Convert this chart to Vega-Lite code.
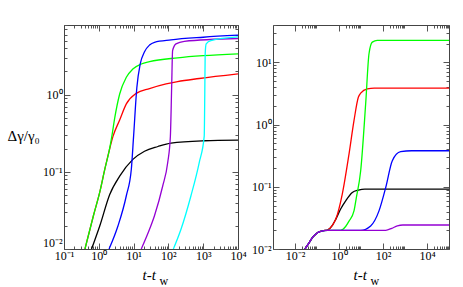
{
  "$schema": "https://vega.github.io/schema/vega-lite/v6.json",
  "background": "white",
  "padding": {"left": 7, "top": 19, "right": 5, "bottom": 5},
  "bounds": "flush",
  "spacing": 35,
  "config": {
    "view": {"stroke": null},
    "axis": {
      "labelFont": "Liberation Serif", "titleFont": "Liberation Serif",
      "labelFontSize": 12, "labelColor": "#000", "titleColor": "#000",
      "domainColor": "#444", "tickColor": "#555", "grid": false,
      "labelOverlap": false, "labelBound": false, "labelFlush": false,
      "titleFontWeight": "normal"
    }
  },
  "datasets": {
    "left": [
      {"s": "black", "t": 0.62, "v": 0.01}, {"s": "black", "t": 1.07, "v": 0.02}, {"s": "black", "t": 2.06, "v": 0.051}, {"s": "black", "t": 3.98, "v": 0.088}, {"s": "black", "t": 9.55, "v": 0.145}, {"s": "black", "t": 20.6, "v": 0.185}, {"s": "black", "t": 50, "v": 0.213}, {"s": "black", "t": 119, "v": 0.236}, {"s": "black", "t": 1070, "v": 0.253}, {"s": "black", "t": 10000, "v": 0.258},
      {"s": "red", "t": 0.4, "v": 0.01}, {"s": "red", "t": 0.7, "v": 0.027}, {"s": "red", "t": 1.07, "v": 0.055}, {"s": "red", "t": 1.5, "v": 0.11}, {"s": "red", "t": 2.0, "v": 0.19}, {"s": "red", "t": 2.57, "v": 0.29}, {"s": "red", "t": 3.98, "v": 0.47}, {"s": "red", "t": 6.18, "v": 0.76}, {"s": "red", "t": 11.9, "v": 1.04}, {"s": "red", "t": 28.7, "v": 1.2}, {"s": "red", "t": 86, "v": 1.38}, {"s": "red", "t": 184, "v": 1.48}, {"s": "red", "t": 769, "v": 1.62}, {"s": "red", "t": 10000, "v": 1.86},
      {"s": "green", "t": 0.4, "v": 0.01}, {"s": "green", "t": 0.7, "v": 0.027}, {"s": "green", "t": 1.07, "v": 0.055}, {"s": "green", "t": 1.5, "v": 0.11}, {"s": "green", "t": 2.0, "v": 0.19}, {"s": "green", "t": 2.4, "v": 0.3}, {"s": "green", "t": 2.87, "v": 0.5}, {"s": "green", "t": 3.98, "v": 1.02}, {"s": "green", "t": 6.18, "v": 1.68}, {"s": "green", "t": 9.5, "v": 2.15}, {"s": "green", "t": 16.6, "v": 2.5}, {"s": "green", "t": 28.7, "v": 2.68}, {"s": "green", "t": 184, "v": 3.0}, {"s": "green", "t": 1000, "v": 3.2}, {"s": "green", "t": 10000, "v": 3.38},
      {"s": "blue", "t": 1.97, "v": 0.01}, {"s": "blue", "t": 3.57, "v": 0.02}, {"s": "blue", "t": 6.18, "v": 0.049}, {"s": "blue", "t": 8.6, "v": 0.108}, {"s": "blue", "t": 10, "v": 0.29}, {"s": "blue", "t": 12.4, "v": 1.24}, {"s": "blue", "t": 15.5, "v": 2.5}, {"s": "blue", "t": 20.6, "v": 3.6}, {"s": "blue", "t": 28.7, "v": 4.4}, {"s": "blue", "t": 39.8, "v": 4.78}, {"s": "blue", "t": 119, "v": 5.13}, {"s": "blue", "t": 1000, "v": 5.55}, {"s": "blue", "t": 10000, "v": 5.9},
      {"s": "purple", "t": 16.6, "v": 0.01}, {"s": "purple", "t": 28.7, "v": 0.018}, {"s": "purple", "t": 39.8, "v": 0.027}, {"s": "purple", "t": 68.9, "v": 0.066}, {"s": "purple", "t": 95.6, "v": 0.132}, {"s": "purple", "t": 114, "v": 0.29}, {"s": "purple", "t": 124, "v": 1.24}, {"s": "purple", "t": 132, "v": 3.73}, {"s": "purple", "t": 165, "v": 4.55}, {"s": "purple", "t": 287, "v": 4.92}, {"s": "purple", "t": 10000, "v": 5.35},
      {"s": "cyan", "t": 139, "v": 0.01}, {"s": "cyan", "t": 230, "v": 0.018}, {"s": "cyan", "t": 445, "v": 0.049}, {"s": "cyan", "t": 769, "v": 0.132}, {"s": "cyan", "t": 1070, "v": 0.29}, {"s": "cyan", "t": 1110, "v": 1.0}, {"s": "cyan", "t": 1140, "v": 3.38}, {"s": "cyan", "t": 1219, "v": 4.55}, {"s": "cyan", "t": 1660, "v": 5.03}, {"s": "cyan", "t": 10000, "v": 5.6}
    ],
    "right": [
      {"s": "black", "t": 0.0285, "v": 0.01}, {"s": "black", "t": 0.045, "v": 0.0128}, {"s": "black", "t": 0.0615, "v": 0.0152}, {"s": "black", "t": 0.09, "v": 0.0175}, {"s": "black", "t": 0.123, "v": 0.0188}, {"s": "black", "t": 0.2, "v": 0.0197}, {"s": "black", "t": 0.3, "v": 0.0202}, {"s": "black", "t": 0.5, "v": 0.024}, {"s": "black", "t": 0.71, "v": 0.03}, {"s": "black", "t": 1.19, "v": 0.044}, {"s": "black", "t": 2.01, "v": 0.0594}, {"s": "black", "t": 4.03, "v": 0.081}, {"s": "black", "t": 7.57, "v": 0.0885}, {"s": "black", "t": 15, "v": 0.092}, {"s": "black", "t": 100000, "v": 0.092},
      {"s": "red", "t": 0.0285, "v": 0.01}, {"s": "red", "t": 0.045, "v": 0.0128}, {"s": "red", "t": 0.0615, "v": 0.0152}, {"s": "red", "t": 0.09, "v": 0.0175}, {"s": "red", "t": 0.123, "v": 0.0188}, {"s": "red", "t": 0.2, "v": 0.0197}, {"s": "red", "t": 0.3, "v": 0.0202}, {"s": "red", "t": 0.5, "v": 0.024}, {"s": "red", "t": 0.71, "v": 0.03}, {"s": "red", "t": 1.41, "v": 0.0763}, {"s": "red", "t": 2.85, "v": 0.336}, {"s": "red", "t": 4.8, "v": 1.16}, {"s": "red", "t": 7.57, "v": 2.75}, {"s": "red", "t": 9.67, "v": 3.2}, {"s": "red", "t": 19.4, "v": 3.75}, {"s": "red", "t": 40, "v": 3.85}, {"s": "red", "t": 100000, "v": 3.85},
      {"s": "green", "t": 0.0285, "v": 0.01}, {"s": "green", "t": 0.045, "v": 0.0128}, {"s": "green", "t": 0.0615, "v": 0.0152}, {"s": "green", "t": 0.09, "v": 0.0175}, {"s": "green", "t": 0.123, "v": 0.0188}, {"s": "green", "t": 0.2, "v": 0.0197}, {"s": "green", "t": 0.3, "v": 0.02}, {"s": "green", "t": 1.19, "v": 0.02}, {"s": "green", "t": 2.0, "v": 0.023}, {"s": "green", "t": 2.85, "v": 0.028}, {"s": "green", "t": 4.8, "v": 0.041}, {"s": "green", "t": 6.14, "v": 0.067}, {"s": "green", "t": 9.67, "v": 0.181}, {"s": "green", "t": 16.3, "v": 2.16}, {"s": "green", "t": 23.1, "v": 13.8}, {"s": "green", "t": 32.7, "v": 21.2}, {"s": "green", "t": 55, "v": 22.6}, {"s": "green", "t": 100000, "v": 22.6},
      {"s": "blue", "t": 0.0285, "v": 0.01}, {"s": "blue", "t": 0.045, "v": 0.0128}, {"s": "blue", "t": 0.0615, "v": 0.0152}, {"s": "blue", "t": 0.09, "v": 0.0175}, {"s": "blue", "t": 0.123, "v": 0.0188}, {"s": "blue", "t": 0.2, "v": 0.0197}, {"s": "blue", "t": 0.3, "v": 0.02}, {"s": "blue", "t": 9.67, "v": 0.02}, {"s": "blue", "t": 27.5, "v": 0.0235}, {"s": "blue", "t": 65.8, "v": 0.041}, {"s": "blue", "t": 133, "v": 0.0975}, {"s": "blue", "t": 265, "v": 0.263}, {"s": "blue", "t": 632, "v": 0.367}, {"s": "blue", "t": 2000, "v": 0.38}, {"s": "blue", "t": 100000, "v": 0.38},
      {"s": "purple", "t": 0.0285, "v": 0.01}, {"s": "purple", "t": 0.045, "v": 0.0128}, {"s": "purple", "t": 0.0615, "v": 0.0152}, {"s": "purple", "t": 0.09, "v": 0.0175}, {"s": "purple", "t": 0.123, "v": 0.0188}, {"s": "purple", "t": 0.2, "v": 0.0197}, {"s": "purple", "t": 0.3, "v": 0.02}, {"s": "purple", "t": 133, "v": 0.02}, {"s": "purple", "t": 250, "v": 0.0215}, {"s": "purple", "t": 450, "v": 0.0236}, {"s": "purple", "t": 800, "v": 0.0243}, {"s": "purple", "t": 100000, "v": 0.0243}
    ]
  },
  "hconcat": [
    {
      "width": 174, "height": 224,
      "data": {"name": "left"},
      "layer": [
        {
          "mark": {"type": "line", "strokeWidth": 1.3, "clip": true, "interpolate": "monotone"},
          "encoding": {
            "x": {"field": "t", "type": "quantitative", "scale": {"type": "log", "domain": [0.1, 10000], "nice": false},
              "axis": {"orient": "bottom", "values": [0.1,0.2,0.3,0.4,0.5,0.6,0.7,0.8,0.9,1,2,3,4,5,6,7,8,9,10,20,30,40,50,60,70,80,90,100,200,300,400,500,600,700,800,900,1000,2000,3000,4000,5000,6000,7000,8000,9000,10000],
                "labelExpr": "abs(log(datum.value)/LN10 - round(log(datum.value)/LN10)) < 0.001 ? '10' + ['⁻³','⁻²','⁻¹','⁰','¹','²','³','⁴','⁵'][round(log(datum.value)/LN10) + 3] : ''",
                "tickSize": {"condition": {"test": "abs(log(datum.value)/LN10 - round(log(datum.value)/LN10)) < 0.001", "value": -6}, "value": -3},
                "labelPadding": 7,
                "title": "t-t", "titleFontStyle": "italic", "titleFontSize": 15, "titleAlign": "left", "titleX": 78, "titleY": 30, "titleBaseline": "alphabetic"}},
            "y": {"field": "v", "type": "quantitative", "scale": {"type": "log", "domain": [0.01, 8], "nice": false},
              "axis": {"orient": "left", "values": [0.01,0.02,0.03,0.04,0.05,0.06,0.07,0.08,0.09,0.1,0.2,0.3,0.4,0.5,0.6,0.7,0.8,0.9,1,2,3,4,5,6,7,8],
                "labelExpr": "abs(log(datum.value)/LN10 - round(log(datum.value)/LN10)) < 0.001 ? '10' + ['⁻³','⁻²','⁻¹','⁰','¹','²','³','⁴','⁵'][round(log(datum.value)/LN10) + 3] : ''",
                "labelBaseline": {"condition": {"test": "datum.value < 0.011", "value": "bottom"}, "value": "middle"},
                "tickSize": {"condition": {"test": "abs(log(datum.value)/LN10 - round(log(datum.value)/LN10)) < 0.001", "value": -6}, "value": -3},
                "labelPadding": 8,
                "title": "Δγ/γ₀", "titleAngle": 0, "titleAlign": "left", "titleBaseline": "middle", "titleX": -57, "titleY": 110, "titleFontSize": 15}},
            "color": {"field": "s", "type": "nominal", "legend": null,
              "scale": {"domain": ["black", "red", "green", "blue", "purple", "cyan"], "range": ["#000000", "#ff0000", "#00ff00", "#0000ff", "#9400d3", "#00ffff"]}}
          }
        },
        {
          "mark": {"type": "line", "opacity": 0},
          "encoding": {
            "x": {"field": "t", "type": "quantitative", "scale": {"type": "log", "domain": [0.1, 10000], "nice": false},
              "axis": {"orient": "top", "values": [0.1,0.2,0.3,0.4,0.5,0.6,0.7,0.8,0.9,1,2,3,4,5,6,7,8,9,10,20,30,40,50,60,70,80,90,100,200,300,400,500,600,700,800,900,1000,2000,3000,4000,5000,6000,7000,8000,9000,10000],
                "labels": false,
                "title": "w", "titleFontSize": 12, "titleAlign": "left", "titleBaseline": "alphabetic", "titleX": 95, "titleY": 259, "titleAngle": 0,
                "tickSize": {"condition": {"test": "abs(log(datum.value)/LN10 - round(log(datum.value)/LN10)) < 0.001", "value": -6}, "value": -3}}},
            "y": {"field": "v", "type": "quantitative", "scale": {"type": "log", "domain": [0.01, 8], "nice": false},
              "axis": {"orient": "right", "values": [0.01,0.02,0.03,0.04,0.05,0.06,0.07,0.08,0.09,0.1,0.2,0.3,0.4,0.5,0.6,0.7,0.8,0.9,1,2,3,4,5,6,7,8],
                "labels": false, "title": null,
                "tickSize": {"condition": {"test": "abs(log(datum.value)/LN10 - round(log(datum.value)/LN10)) < 0.001", "value": -6}, "value": -3}}}
          }
        }
      ],
      "resolve": {"axis": {"x": "independent", "y": "independent"}}
    },
    {
      "width": 176, "height": 224,
      "data": {"name": "right"},
      "layer": [
        {
          "mark": {"type": "line", "strokeWidth": 1.3, "clip": true, "interpolate": "monotone"},
          "encoding": {
            "x": {"field": "t", "type": "quantitative", "scale": {"type": "log", "domain": [0.001, 100000], "nice": false},
              "axis": {"orient": "bottom", "values": [0.01,0.02,0.03,0.04,0.05,0.06,0.07,0.08,0.09,1,2,3,4,5,6,7,8,9,100,200,300,400,500,600,700,800,900,10000,20000,30000,40000,50000,60000,70000,80000,90000],
                "labelExpr": "abs(log(datum.value)/LN10 - round(log(datum.value)/LN10)) < 0.001 ? '10' + ['⁻³','⁻²','⁻¹','⁰','¹','²','³','⁴','⁵'][round(log(datum.value)/LN10) + 3] : ''",
                "tickSize": {"condition": {"test": "abs(log(datum.value)/LN10 - round(log(datum.value)/LN10)) < 0.001", "value": -6}, "value": -3},
                "labelPadding": 7,
                "title": "t-t", "titleFontStyle": "italic", "titleFontSize": 15, "titleAlign": "left", "titleX": 80, "titleY": 30, "titleBaseline": "alphabetic"}},
            "y": {"field": "v", "type": "quantitative", "scale": {"type": "log", "domain": [0.01, 40], "nice": false},
              "axis": {"orient": "left", "values": [0.01,0.02,0.03,0.04,0.05,0.06,0.07,0.08,0.09,0.1,0.2,0.3,0.4,0.5,0.6,0.7,0.8,0.9,1,2,3,4,5,6,7,8,9,10,20,30,40],
                "labelExpr": "abs(log(datum.value)/LN10 - round(log(datum.value)/LN10)) < 0.001 ? '10' + ['⁻³','⁻²','⁻¹','⁰','¹','²','³','⁴','⁵'][round(log(datum.value)/LN10) + 3] : ''",
                "tickSize": {"condition": {"test": "abs(log(datum.value)/LN10 - round(log(datum.value)/LN10)) < 0.001", "value": -6}, "value": -3},
                "labelPadding": 8, "title": null}},
            "color": {"field": "s", "type": "nominal", "legend": null,
              "scale": {"domain": ["black", "red", "green", "blue", "purple"], "range": ["#000000", "#ff0000", "#00ff00", "#0000ff", "#9400d3"]}}
          }
        },
        {
          "mark": {"type": "line", "opacity": 0},
          "encoding": {
            "x": {"field": "t", "type": "quantitative", "scale": {"type": "log", "domain": [0.001, 100000], "nice": false},
              "axis": {"orient": "top", "values": [0.01,0.02,0.03,0.04,0.05,0.06,0.07,0.08,0.09,1,2,3,4,5,6,7,8,9,100,200,300,400,500,600,700,800,900,10000,20000,30000,40000,50000,60000,70000,80000,90000],
                "labels": false,
                "title": "w", "titleFontSize": 12, "titleAlign": "left", "titleBaseline": "alphabetic", "titleX": 97, "titleY": 259, "titleAngle": 0,
                "tickSize": {"condition": {"test": "abs(log(datum.value)/LN10 - round(log(datum.value)/LN10)) < 0.001", "value": -6}, "value": -3}}},
            "y": {"field": "v", "type": "quantitative", "scale": {"type": "log", "domain": [0.01, 40], "nice": false},
              "axis": {"orient": "right", "values": [0.01,0.02,0.03,0.04,0.05,0.06,0.07,0.08,0.09,0.1,0.2,0.3,0.4,0.5,0.6,0.7,0.8,0.9,1,2,3,4,5,6,7,8,9,10,20,30,40],
                "labels": false, "title": null,
                "tickSize": {"condition": {"test": "abs(log(datum.value)/LN10 - round(log(datum.value)/LN10)) < 0.001", "value": -6}, "value": -3}}}
          }
        }
      ],
      "resolve": {"axis": {"x": "independent", "y": "independent"}}
    }
  ]
}
